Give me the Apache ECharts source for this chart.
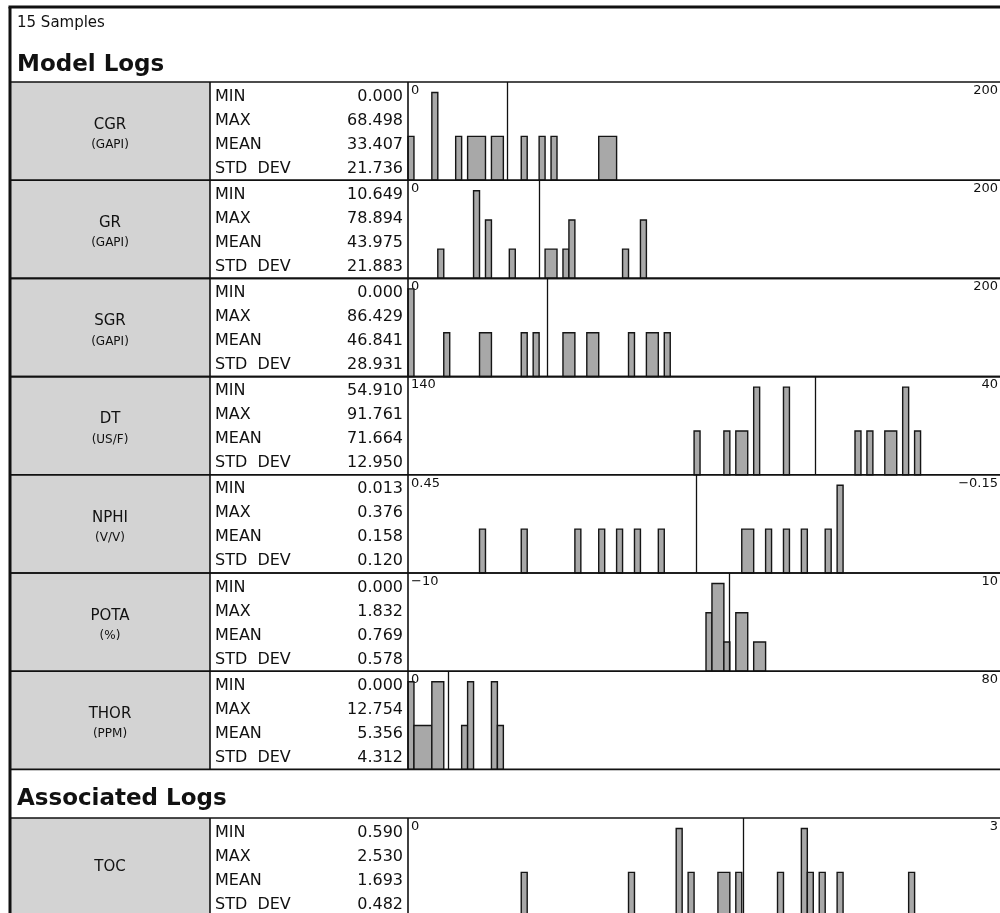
<!DOCTYPE html>
<html><head><meta charset="utf-8">
<script src="https://cdn.jsdelivr.net/npm/echarts@6/dist/echarts.min.js"></script>
<style>html,body{margin:0;padding:0;background:#fff}#c{width:1000px;height:913px}</style>
</head><body><div id="c"></div><script>
// ---------- data ----------
const sampleTitle = '15 Samples';
const sectionTitles = ['Model Logs', 'Associated Logs'];
const logNames = ['CGR', 'GR', 'SGR', 'DT', 'NPHI', 'POTA', 'THOR', 'TOC'];
const logUnits = ['(GAPI)', '(GAPI)', '(GAPI)', '(US/F)', '(V/V)', '(%)', '(PPM)', ''];
const statLabels = ['MIN', 'MAX', 'MEAN', 'STD  DEV'];
const statMin  = ['0.000', '10.649', '0.000', '54.910', '0.013', '0.000', '0.000', '0.590'];
const statMax  = ['68.498', '78.894', '86.429', '91.761', '0.376', '1.832', '12.754', '2.530'];
const statMean = ['33.407', '43.975', '46.841', '71.664', '0.158', '0.769', '5.356', '1.693'];
const statStd  = ['21.736', '21.883', '28.931', '12.950', '0.120', '0.578', '4.312', '0.482'];
const axisLeftValues  = [0, 0, 0, 140, 0.45, -10, 0, 0];
const axisRightValues = [200, 200, 200, 40, -0.15, 10, 80, 3];
const axisLeftLabels  = ['0', '0', '0', '140', '0.45', '\u221210', '0', '0'];
const axisRightLabels = ['200', '200', '200', '40', '\u22120.15', '10', '80', '3'];
const binsPerAxis = 100;
// occupied histogram bins (index of 100 equal bins from left to right axis value) and sample counts
const cgrBins  = [0, 4, 8, 10, 11, 12, 14, 15, 19, 22, 24, 32, 33, 34];
const cgrCounts = [1, 2, 1, 1, 1, 1, 1, 1, 1, 1, 1, 1, 1, 1];
const grBins  = [5, 11, 13, 17, 23, 24, 26, 27, 36, 39];
const grCounts = [1, 3, 2, 1, 1, 1, 1, 2, 1, 2];
const sgrBins  = [0, 6, 12, 13, 19, 21, 26, 27, 30, 31, 37, 40, 41, 43];
const sgrCounts = [2, 1, 1, 1, 1, 1, 1, 1, 1, 1, 1, 1, 1, 1];
const dtBins  = [48, 53, 55, 56, 58, 63, 75, 77, 80, 81, 83, 85];
const dtCounts = [1, 1, 1, 1, 2, 2, 1, 1, 1, 1, 2, 1];
const nphiBins  = [12, 19, 28, 32, 35, 38, 42, 56, 57, 60, 63, 66, 70, 72];
const nphiCounts = [1, 1, 1, 1, 1, 1, 1, 1, 1, 1, 1, 1, 1, 2];
const potaBins  = [50, 51, 52, 53, 55, 56, 58, 59];
const potaCounts = [2, 3, 3, 1, 2, 2, 1, 1];
const thorBins  = [0, 1, 2, 3, 4, 5, 9, 10, 14, 15];
const thorCounts = [2, 1, 1, 1, 2, 2, 1, 2, 2, 1];
const tocBins  = [19, 37, 45, 47, 52, 53, 55, 62, 66, 67, 69, 72, 84];
const tocCounts = [1, 1, 2, 1, 1, 1, 1, 1, 2, 1, 1, 1, 1];
const allBins = [cgrBins, grBins, sgrBins, dtBins, nphiBins, potaBins, thorBins, tocBins];
const allCounts = [cgrCounts, grCounts, sgrCounts, dtCounts, nphiCounts, potaCounts, thorCounts, tocCounts];

// ---------- layout ----------
const FONT = 'DejaVu Sans';
const L = 10, T = 7, R = 1004;
const C1 = 210, C2 = 408;
const ROW_H = 98.2;
const MODEL_TOP = 82;
const ASSOC_TOP = 818;
function rowTop(i) { return i < 7 ? MODEL_TOP + i * ROW_H : ASSOC_TOP; }

const graphics = [];
graphics.push({ type: 'rect', z: 0, shape: { x: 0, y: 0, width: 1000, height: 913 }, style: { fill: '#fff' } });
function hline(y, x1, x2, w) { graphics.push({ type: 'line', z: 5, shape: { x1: x1, y1: y, x2: x2, y2: y }, style: { stroke: '#111', lineWidth: w || 1.6 } }); }
function vline(x, y1, y2, w) { graphics.push({ type: 'line', z: 5, shape: { x1: x, y1: y1, x2: x, y2: y2 }, style: { stroke: '#111', lineWidth: w || 1.6 } }); }
function text(str, x, y, opts) {
  graphics.push({ type: 'text', z: 6, x: x, y: y, style: Object.assign({ text: str, fill: '#111', font: '15px "' + FONT + '"', textAlign: 'left', textVerticalAlign: 'middle' }, opts || {}) });
}

text(sampleTitle, 17, 23, { font: '15px "' + FONT + '"' });
text(sectionTitles[0], 17, 65, { font: 'bold 23px "' + FONT + '"' });
text(sectionTitles[1], 17, 799, { font: 'bold 23px "' + FONT + '"' });

for (let i = 0; i < 8; i++) {
  const top = rowTop(i);
  graphics.push({ type: 'rect', z: 1, shape: { x: L, y: top, width: C1 - L, height: ROW_H }, style: { fill: '#d3d3d3' } });
  hline(top, L, R);
  if (i < 7) hline(top + ROW_H, L, R);
  vline(C1, top, top + ROW_H);
  vline(C2, top, top + ROW_H);
  if (logUnits[i]) {
    text(logNames[i], (L + C1) / 2, top + 43, { textAlign: 'center', font: '15px "' + FONT + '"' });
    text(logUnits[i], (L + C1) / 2, top + 63, { textAlign: 'center', font: '12px "' + FONT + '"' });
  } else {
    text(logNames[i], (L + C1) / 2, top + 49, { textAlign: 'center', font: '15px "' + FONT + '"' });
  }
  const vals = [statMin[i], statMax[i], statMean[i], statStd[i]];
  for (let j = 0; j < 4; j++) {
    const y = top + 14.5 + 24 * j;
    text(statLabels[j], 215, y, { font: '16px "' + FONT + '"' });
    text(vals[j], 403, y, { textAlign: 'right', font: '16px "' + FONT + '"' });
  }
}
// outer border
hline(T, L - 1.5, R, 3);
vline(L, T, 913, 3);

// ---------- histograms ----------
const grids = [], xAxes = [], yAxes = [], series = [];
for (let i = 0; i < 8; i++) {
  const top = rowTop(i);
  const lv = axisLeftValues[i], rv = axisRightValues[i];
  const inv = lv > rv;
  const bins = allBins[i], counts = allCounts[i];
  const maxCount = Math.max.apply(null, counts);
  // merge runs of adjacent bins with equal counts
  const items = [];
  for (let k = 0; k < bins.length; k++) {
    const last = items[items.length - 1];
    if (last && last.end === bins[k] - 1 && last.count === counts[k]) last.end = bins[k];
    else items.push({ start: bins[k], end: bins[k], count: counts[k] });
  }
  const step = (rv - lv) / binsPerAxis;
  const data = items.map(it => [lv + step * it.start, lv + step * (it.end + 1), it.count]);

  grids.push({ left: C2, top: top, width: R - C2, height: ROW_H, outerBoundsMode: 'none', containLabel: false });
  xAxes.push({
    type: 'value', gridIndex: i, min: Math.min(lv, rv), max: Math.max(lv, rv), inverse: inv,
    position: 'top', axisLine: { show: false }, axisTick: { show: false }, splitLine: { show: false },
    axisLabel: {
      inside: true, margin: 2, color: '#111',
      customValues: [lv, rv],
      alignMinLabel: 'left', alignMaxLabel: 'right',
      formatter: (v) => '{t|' + (v === lv ? axisLeftLabels[i] : axisRightLabels[i]) + '}',
      rich: { t: { fontSize: 13, fontFamily: FONT, color: '#111', padding: [0, 6, 0, 3] } }
    }
  });
  yAxes.push({ type: 'value', gridIndex: i, min: 0, max: maxCount * 1.12, show: false });
  series.push({
    type: 'custom', xAxisIndex: i, yAxisIndex: i, z: 3,
    encode: { x: [0, 1], y: 2 },
    data: data,
    renderItem: (params, api) => {
      const a = api.coord([api.value(0), 0]);
      const b = api.coord([api.value(1), api.value(2)]);
      return {
        type: 'rect',
        shape: { x: Math.min(a[0], b[0]), y: b[1], width: Math.abs(b[0] - a[0]), height: a[1] - b[1] },
        style: { fill: '#a8a8a8', stroke: '#151515', lineWidth: 1.4 }
      };
    },
    markLine: {
      silent: true, symbol: 'none', animation: false,
      label: { show: false },
      lineStyle: { color: '#111', width: 1.3, type: 'solid' },
      data: [{ xAxis: parseFloat(statMean[i]) }]
    }
  });
}

const chart = echarts.init(document.getElementById('c'));
chart.setOption({
  animation: false,
  backgroundColor: '#fff',
  graphic: { elements: graphics },
  grid: grids, xAxis: xAxes, yAxis: yAxes, series: series
});
</script></body></html>
